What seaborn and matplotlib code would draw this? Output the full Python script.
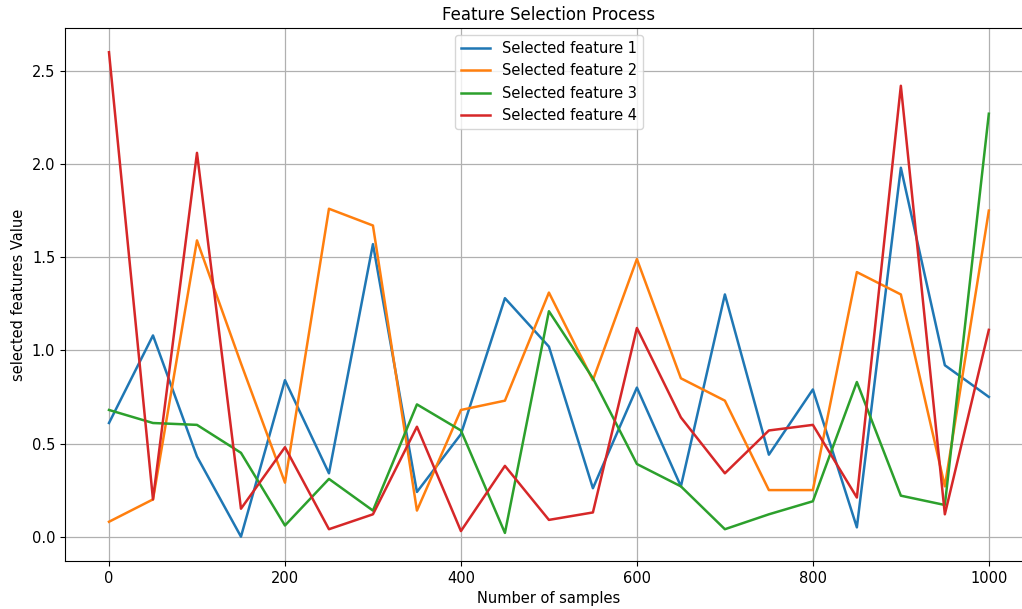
import pandas as pd
import numpy as np
import matplotlib
matplotlib.use("Agg")
import matplotlib.pyplot as plt
import seaborn as sns

# campioni sull'asse x
samples = list(range(0, 1001, 50))

feature_1 = [0.61, 1.08, 0.43, 0.00, 0.84, 0.34, 1.57, 0.24, 0.55, 1.28, 1.02,
             0.26, 0.80, 0.27, 1.30, 0.44, 0.79, 0.05, 1.98, 0.92, 0.75]
feature_2 = [0.08, 0.20, 1.59, 0.93, 0.29, 1.76, 1.67, 0.14, 0.68, 0.73, 1.31,
             0.84, 1.49, 0.85, 0.73, 0.25, 0.25, 1.42, 1.30, 0.27, 1.75]
feature_3 = [0.68, 0.61, 0.60, 0.45, 0.06, 0.31, 0.14, 0.71, 0.57, 0.02, 1.21,
             0.85, 0.39, 0.27, 0.04, 0.12, 0.19, 0.83, 0.22, 0.17, 2.27]
feature_4 = [2.60, 0.20, 2.06, 0.15, 0.48, 0.04, 0.12, 0.59, 0.03, 0.38, 0.09,
             0.13, 1.12, 0.64, 0.34, 0.57, 0.60, 0.21, 2.42, 0.12, 1.11]

series = {
    "Selected feature 1": feature_1,
    "Selected feature 2": feature_2,
    "Selected feature 3": feature_3,
    "Selected feature 4": feature_4,
}

# formato lungo per seaborn
df = pd.concat(
    [pd.DataFrame({"samples": samples, "value": v, "feature": k}) for k, v in series.items()],
    ignore_index=True,
)

fig = plt.figure(figsize=(10.22, 6.09), dpi=100)
ax = fig.add_axes([0.0636, 0.079, 0.947, 0.875])

sns.lineplot(data=df, x="samples", y="value", hue="feature",
             palette="tab10", linewidth=1.8, ax=ax)

ax.set_xlim(-50, 1050)
ax.grid(True, color="#b0b0b0", linewidth=0.9)
ax.set_axisbelow(True)
ax.set_title("Feature Selection Process", fontsize=12)
ax.set_xlabel("Number of samples", fontsize=10.5)
ax.set_ylabel("selected features Value", fontsize=10.5)
ax.set_xticks([0, 200, 400, 600, 800, 1000])
ax.set_yticks([0.0, 0.5, 1.0, 1.5, 2.0, 2.5])
ax.tick_params(labelsize=10.5)
ax.legend(loc="upper center", fontsize=10.5, title=None)

fig.savefig("out.png", dpi=100)
